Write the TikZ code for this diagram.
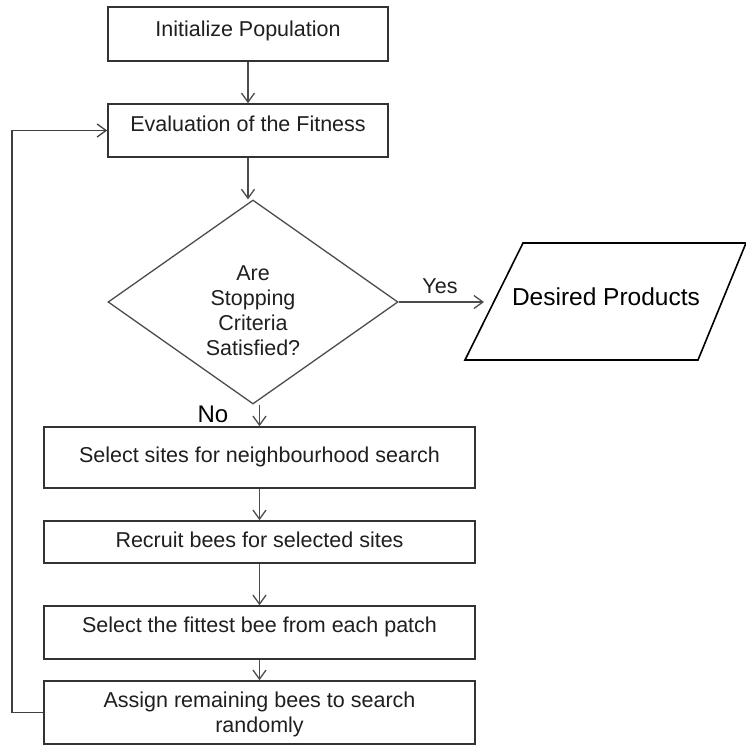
\documentclass[tikz,border=0pt]{standalone}
\usepackage{fontspec}
\setmainfont{Liberation Sans}
\usetikzlibrary{arrows.meta,shapes.geometric}
\begin{document}
\begin{tikzpicture}[x=1pt,y=-1pt,
  boxstyle/.style={draw=black!80, fill=white, line width=1.6pt, inner sep=0pt, rectangle},
  dia/.style={draw=black!70, line width=1.3pt, shape=diamond, inner sep=0pt},
  txt/.style={anchor=base, inner sep=0pt, text=black!88, font=\fontsize{21.5}{25}\selectfont},
  bigtxt/.style={anchor=base, inner sep=0pt, text=black, font=\fontsize{24.5}{28}\selectfont},
  arr/.style={draw=black!70, line width=1.3pt, -{Straight Barb[length=9pt,width=13pt,line width=1.3pt]}},
  fbline/.style={draw=black!75, line width=1.6pt, -{Straight Barb[length=9pt,width=13pt,line width=1.3pt]}}
]
\useasboundingbox (0,0) rectangle (746,745);

% boxes
\node[boxstyle, minimum width=280pt, minimum height=54pt] (b1) at (248,34) {};
\node[txt] (t1) at (248,36.7) {Initialize Population};
\node[boxstyle, minimum width=280pt, minimum height=53pt] (b2) at (248,130.5) {};
\node[txt] (t2) at (248,131.7) {Evaluation of the Fitness};

% decision
\node[dia, minimum width=290pt, minimum height=204pt] (d) at (253,302) {};
\node[anchor=center, inner sep=0pt, align=center, text=black!88, font=\fontsize{21.5}{25}\selectfont] (dt) at (253,311) {Are\\Stopping\\Criteria\\Satisfied?};

% output parallelogram
\draw[draw=black, line width=1.6pt] (523,243) -- (746,243) -- (698,360) -- (465,360) -- cycle;
\node[bigtxt] (out) at (606,305) {Desired Products};
\coordinate (outin) at (484,302);

% lower boxes
\node[boxstyle, minimum width=431pt, minimum height=61pt] (b3) at (259.5,457.5) {};
\node[txt] (t3) at (259.5,462.7) {Select sites for neighbourhood search};
\node[boxstyle, minimum width=431pt, minimum height=42pt] (b4) at (259.5,542) {};
\node[txt] (t4) at (259.5,547.7) {Recruit bees for selected sites};
\node[boxstyle, minimum width=431pt, minimum height=53pt] (b5) at (259.5,632.5) {};
\node[txt] (t5) at (259.5,632.7) {Select the fittest bee from each patch};
\node[boxstyle, minimum width=431pt, minimum height=63pt] (b6) at (259.5,712.5) {};
\node[txt] (t6a) at (259.5,707.7) {Assign remaining bees to search};
\node[txt] (t6b) at (259.5,732.7) {randomly};

% labels
\node[txt] (yes) at (440,293) {Yes};
\node[bigtxt, font=\fontsize{24}{28}\selectfont] (no) at (213,422.5) {No};

% connectors
\draw[arr] (b1.south) -- (b2.north);
\draw[arr] (b2.south) -- (b2.south |- d.north);
\draw[arr] (d.east) -- (outin);
\draw[arr] (b3.north |- d.south) -- (b3.north);
\draw[arr] (b3.south) -- (b4.north);
\draw[arr] (b4.south) -- (b5.north);
\draw[arr] (b5.south) -- (b6.north);

\coordinate (fb) at (12,713);
\draw[fbline] (b6.west) -- (b6.west -| fb) |- (b2.west);
\end{tikzpicture}
\end{document}
